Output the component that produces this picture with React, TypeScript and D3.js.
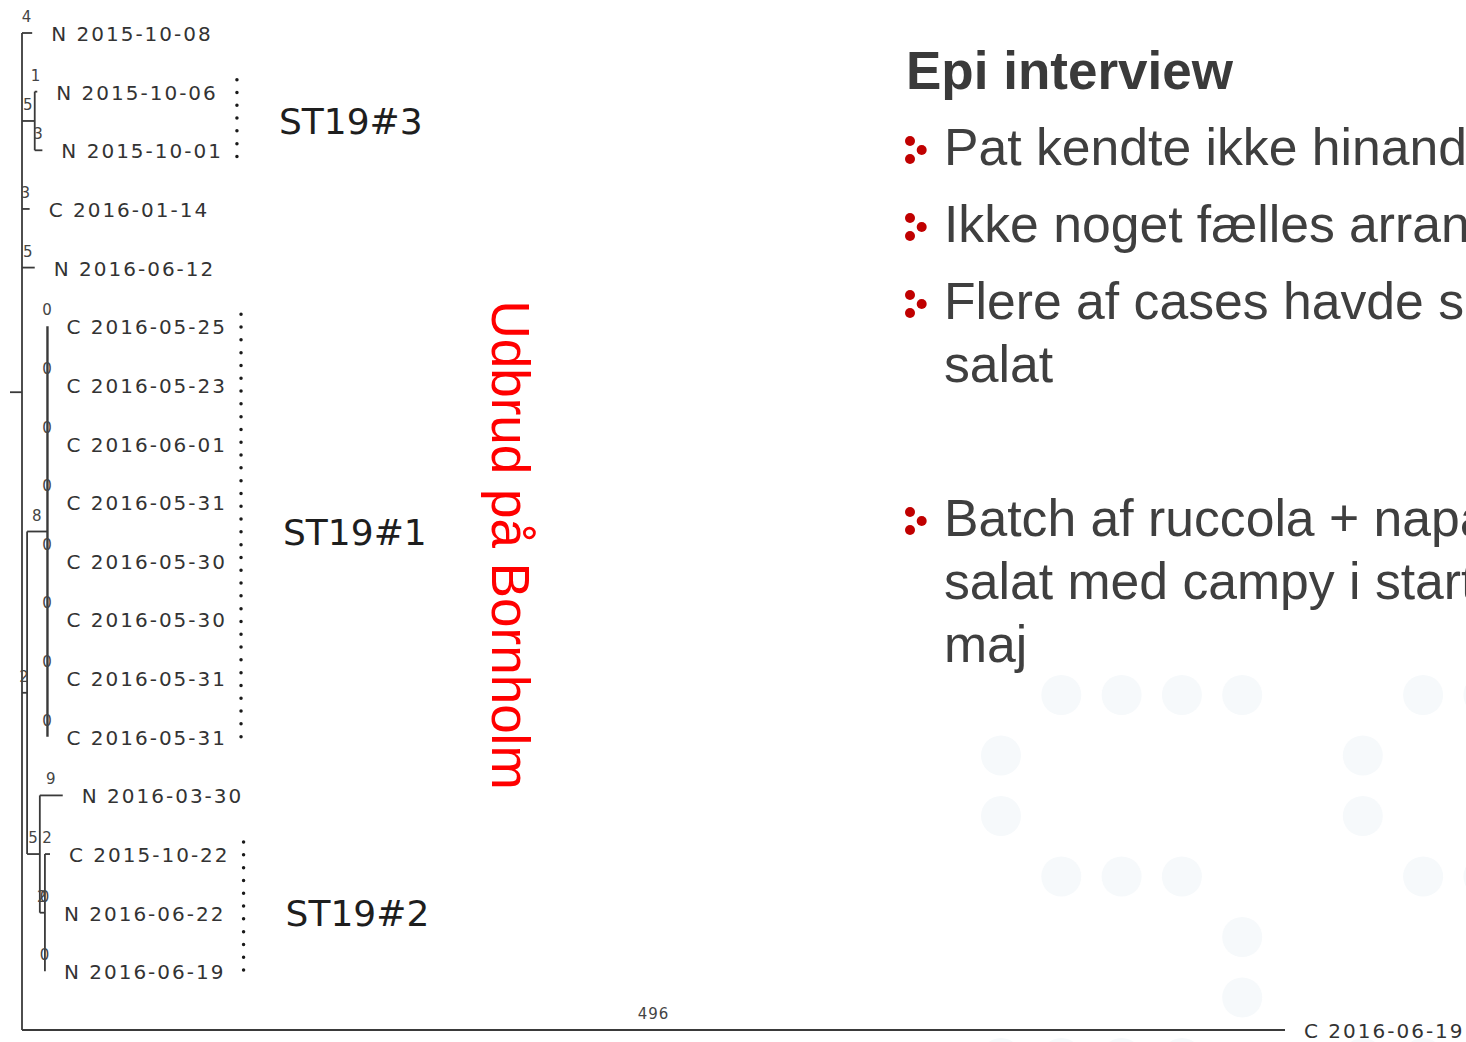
import { useEffect, useRef } from 'react';
import * as d3 from 'd3';

// tree rows: [id, parent, branch length (SNPs), leaf label]
const treeRows: [string, string, number, string][] = [
  ['root', '', 0, ''],
  ['t01', 'root', 4, 'N 2015-10-08'],
  ['st3', 'root', 5, ''],
  ['t02', 'st3', 1, 'N 2015-10-06'],
  ['t03', 'st3', 3, 'N 2015-10-01'],
  ['t04', 'root', 3, 'C 2016-01-14'],
  ['t05', 'root', 5, 'N 2016-06-12'],
  ['a', 'root', 2, ''],
  ['st1', 'a', 8, ''],
  ['t06', 'st1', 0, 'C 2016-05-25'],
  ['t07', 'st1', 0, 'C 2016-05-23'],
  ['t08', 'st1', 0, 'C 2016-06-01'],
  ['t09', 'st1', 0, 'C 2016-05-31'],
  ['t10', 'st1', 0, 'C 2016-05-30'],
  ['t11', 'st1', 0, 'C 2016-05-30'],
  ['t12', 'st1', 0, 'C 2016-05-31'],
  ['t13', 'st1', 0, 'C 2016-05-31'],
  ['b', 'a', 5, ''],
  ['t14', 'b', 9, 'N 2016-03-30'],
  ['st2', 'b', 2, ''],
  ['t15', 'st2', 2, 'C 2015-10-22'],
  ['t16', 'st2', 0, 'N 2016-06-22'],
  ['t17', 'st2', 0, 'N 2016-06-19'],
  ['t18', 'root', 496, 'C 2016-06-19'],
];

const cladeNames = ['ST19#3', 'ST19#1', 'ST19#2'];
const cladeNodes = ['st3', 'st1', 'st2'];

const outbreakLabel = 'Udbrud på Bornholm';

const slideTitle = 'Epi interview';
const bulletItems: string[][] = [
  ['Pat kendte ikke hinanden'],
  ['Ikke noget fælles arrangement'],
  ['Flere af cases havde spist', 'salat'],
  [],
  ['Batch af ruccola + napa', 'salat med campy i start', 'maj'],
];

// background dot logo (two "S" letters)
const logoGlyph = ['.XXXX', 'X....', 'X....', '.XXX.', '....X', '....X', 'XXXX.'];
const logoLetterOffsets = [0, 6];

const W = 1466;
const H = 1042;
const treeFont = '"DejaVu Sans", Verdana, sans-serif';
const slideFont = '"Liberation Sans", Arial, sans-serif';

export default function App() {
  const svgRef = useRef<SVGSVGElement>(null);

  useEffect(() => {
    if (!svgRef.current) return;
    const svg = d3.select(svgRef.current);
    svg.selectAll('*').remove();

    // Background dots
    const dots: { c: number; r: number }[] = [];
    logoLetterOffsets.forEach(off => {
      logoGlyph.forEach((row, r) => {
        row.split('').forEach((ch, c) => {
          if (ch === 'X') dots.push({ c: c + off, r });
        });
      });
    });
    const dotX = d3.scaleLinear().domain([0, 1]).range([1001, 1061.3]);
    const dotY = d3.scaleLinear().domain([0, 1]).range([695, 755.5]);
    svg.append('g')
      .selectAll('circle')
      .data(dots)
      .enter()
      .append('circle')
      .attr('cx', d => dotX(d.c))
      .attr('cy', d => dotY(d.r))
      .attr('r', 20)
      .attr('fill', '#f6f9fb');

    // Tree layout
    const root = d3.stratify<[string, string, number, string]>()
      .id(d => d[0])
      .parentId(d => d[1])(treeRows);

    const lenOf = new Map<string, number>();
    root.eachBefore(n => {
      const p = n.parent ? lenOf.get(n.parent.id!)! : 0;
      lenOf.set(n.id!, p + n.data[2]);
    });
    const leaves = root.leaves();
    const xScale = d3.scaleLinear().domain([0, 496]).range([22, 1285]);
    const yScale = d3.scalePoint<string>()
      .domain(leaves.map(l => l.id!))
      .range([33, 1030]);
    const yOf = new Map<string, number>();
    root.eachAfter(n => {
      if (n.children) yOf.set(n.id!, d3.mean(n.children, c => yOf.get(c.id!)!)!);
      else yOf.set(n.id!, yScale(n.id!)!);
    });
    const nx = (n: d3.HierarchyNode<any>) => xScale(lenOf.get(n.id!)!);
    const ny = (n: d3.HierarchyNode<any>) => yOf.get(n.id!)!;

    const tree = svg.append('g');
    const lineColor = '#3a3a3a';

    // root stub
    tree.append('line')
      .attr('x1', nx(root) - 12)
      .attr('x2', nx(root))
      .attr('y1', ny(root))
      .attr('y2', ny(root))
      .attr('stroke', lineColor)
      .attr('stroke-width', 1.8);

    const nodes = root.descendants();
    // horizontal branches
    tree.selectAll('.hbranch')
      .data(nodes.filter(n => n.parent))
      .enter()
      .append('line')
      .attr('x1', d => nx(d.parent!))
      .attr('x2', d => nx(d))
      .attr('y1', d => ny(d))
      .attr('y2', d => ny(d))
      .attr('stroke', lineColor)
      .attr('stroke-width', 1.8);

    // vertical connectors
    tree.selectAll('.vbranch')
      .data(nodes.filter(n => n.children))
      .enter()
      .append('line')
      .attr('x1', d => nx(d))
      .attr('x2', d => nx(d))
      .attr('y1', d => d3.min(d.children!, c => ny(c))!)
      .attr('y2', d => d3.max(d.children!, c => ny(c))!)
      .attr('stroke', lineColor)
      .attr('stroke-width', d => (d.id === 'st1' ? 2.4 : 1.8));

    // branch length labels
    tree.selectAll('.blabel')
      .data(nodes.filter(n => n.parent))
      .enter()
      .append('text')
      .attr('x', d => (nx(d.parent!) + nx(d)) / 2)
      .attr('y', d => ny(d) - 11)
      .attr('text-anchor', 'middle')
      .attr('font-size', '15px')
      .attr('letter-spacing', '1px')
      .attr('fill', '#444')
      .style('font-family', treeFont)
      .text(d => String(d.data[2]));

    // leaf labels
    const leafText = tree.selectAll('.leaf')
      .data(leaves)
      .enter()
      .append('text')
      .attr('x', d => nx(d) + 19)
      .attr('y', d => ny(d) + 8)
      .attr('font-size', '20px')
      .attr('letter-spacing', '2px')
      .attr('fill', '#333')
      .style('font-family', treeFont)
      .text(d => d.data[3]);

    const rightEdge = new Map<string, number>();
    leafText.each(function (d) {
      const box = (this as SVGTextElement).getBBox();
      rightEdge.set(d.id!, box.x + box.width);
    });

    // clade brackets
    cladeNodes.forEach((id, i) => {
      const node = nodes.find(n => n.id === id)!;
      const cl = node.leaves();
      const dx = d3.max(cl, l => rightEdge.get(l.id!)!)! + 14;
      const y0 = d3.min(cl, l => ny(l))! - 12;
      const y1 = d3.max(cl, l => ny(l))! + 11;
      tree.append('line')
        .attr('x1', dx)
        .attr('x2', dx)
        .attr('y1', y0)
        .attr('y2', y1)
        .attr('stroke', '#1a1a1a')
        .attr('stroke-width', 3.5)
        .attr('stroke-linecap', 'round')
        .attr('stroke-dasharray', '0,12.8');
      tree.append('text')
        .attr('x', dx + 42)
        .attr('y', d3.mean(cl, l => ny(l))! + 13)
        .attr('font-size', '36px')
        .attr('fill', '#1e1e1e')
        .style('font-family', treeFont)
        .text(cladeNames[i]);
    });

    // outbreak label
    svg.append('text')
      .attr('transform', 'translate(492, 545) rotate(90)')
      .attr('text-anchor', 'middle')
      .attr('font-size', '53px')
      .attr('fill', '#ff0000')
      .style('font-family', slideFont)
      .text(outbreakLabel);

    // slide text
    const slide = svg.append('g');
    slide.append('text')
      .attr('x', 906)
      .attr('y', 89)
      .attr('font-size', '53px')
      .attr('font-weight', '700')
      .attr('fill', '#3a3a3a')
      .style('font-family', slideFont)
      .text(slideTitle);

    const itemGap = 77;
    const lineGap = 63;
    let base = 165;
    bulletItems.forEach(item => {
      if (item.length) {
        const bullet = slide.append('g').attr('fill', '#c00000');
        [[910, -24], [921.7, -15], [910, -6]].forEach(([bx, by]) => {
          bullet.append('circle').attr('cx', bx).attr('cy', base + by).attr('r', 5);
        });
      }
      const lines = item.length ? item : [''];
      lines.forEach((ln, j) => {
        slide.append('text')
          .attr('x', 944)
          .attr('y', base + j * lineGap)
          .attr('font-size', '51.7px')
          .attr('fill', '#3f3f3f')
          .style('font-family', slideFont)
          .text(ln);
      });
      base += (lines.length - 1) * lineGap + itemGap;
    });
  }, []);

  return (
    <svg
      ref={svgRef}
      width={W}
      height={H}
      style={{ position: 'absolute', left: 0, top: 0, display: 'block', background: '#fff' }}
    />
  );
}
